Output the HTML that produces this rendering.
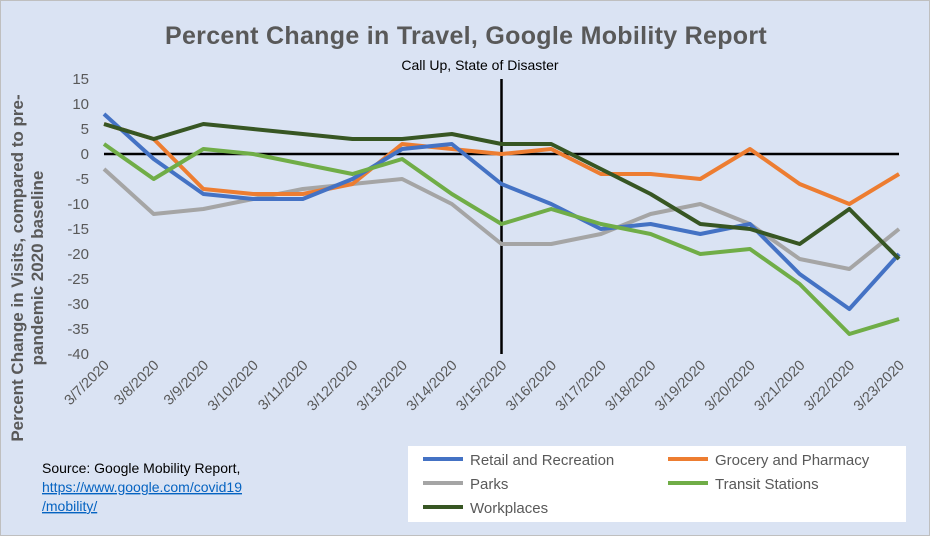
<!DOCTYPE html>
<html><head><meta charset="utf-8"><style>
body{margin:0;background:#fff}
svg{display:block;font-family:"Liberation Sans",sans-serif}
</style></head><body>
<svg width="930" height="536" viewBox="0 0 930 536">
<rect x="0.5" y="0.5" width="929" height="535" fill="#dae3f3" stroke="#bfbfbf"/>
<text x="466" y="44" text-anchor="middle" font-size="25" font-weight="bold" fill="#595959" letter-spacing="0.3">Percent Change in Travel, Google Mobility Report</text>
<text x="480" y="70" text-anchor="middle" font-size="14" fill="#000">Call Up, State of Disaster</text>
<g font-size="15" fill="#595959" text-anchor="end">
<text x="89" y="84">15</text><text x="89" y="109">10</text><text x="89" y="134">5</text><text x="89" y="159">0</text>
<text x="89" y="184">-5</text><text x="89" y="209">-10</text><text x="89" y="234">-15</text><text x="89" y="259">-20</text>
<text x="89" y="284">-25</text><text x="89" y="309">-30</text><text x="89" y="334">-35</text><text x="89" y="359">-40</text>
</g>
<g font-size="17" font-weight="bold" fill="#595959" text-anchor="middle">
<text transform="translate(23,268) rotate(-90)">Percent Change in Visits, compared to pre-</text>
<text transform="translate(43,268) rotate(-90)">pandemic 2020 baseline</text>
</g>
<line x1="104" y1="154" x2="899" y2="154" stroke="#000" stroke-width="2.5"/>
<line x1="501.5" y1="79" x2="501.5" y2="354" stroke="#000" stroke-width="2.5"/>
<g font-size="14.5" fill="#595959" text-anchor="end" id="xl"></g>
<g fill="none" stroke-width="4" stroke-linejoin="round" id="ln"></g>
<rect x="408" y="446" width="498" height="76" fill="#fff"/>
<g font-size="15" fill="#595959">
<line x1="423" y1="459" x2="463" y2="459" stroke="#4472c4" stroke-width="4"/><text x="470" y="465">Retail and Recreation</text>
<line x1="668" y1="459" x2="708" y2="459" stroke="#ed7d31" stroke-width="4"/><text x="715" y="465">Grocery and Pharmacy</text>
<line x1="423" y1="483" x2="463" y2="483" stroke="#a5a5a5" stroke-width="4"/><text x="470" y="489">Parks</text>
<line x1="668" y1="483" x2="708" y2="483" stroke="#70ad47" stroke-width="4"/><text x="715" y="489">Transit Stations</text>
<line x1="423" y1="507" x2="463" y2="507" stroke="#375623" stroke-width="4"/><text x="470" y="513">Workplaces</text>
</g>
<g font-size="14">
<text x="42" y="473" fill="#000">Source: Google Mobility Report,</text>
<text x="42" y="492" fill="#0563c1" text-decoration="underline">https://www.google.com/covid19</text>
<text x="42" y="511" fill="#0563c1" text-decoration="underline">/mobility/</text>
</g>
<script>
var ns="http://www.w3.org/2000/svg";
function X(i){return 104+i*49.69}
function Y(v){return 154-5*v}
var xl=document.getElementById('xl');
for(var i=0;i<17;i++){var t=document.createElementNS(ns,'text');var x=X(i)+6,y=366;
t.setAttribute('transform','translate('+x+','+y+') rotate(-45)');t.textContent='3/'+(7+i)+'/2020';xl.appendChild(t);}
var S=[
['#a5a5a5',[-3,-12,-11,-9,-7,-6,-5,-10,-18,-18,-16,-12,-10,-14,-21,-23,-15]],
['#ed7d31',[6,3,-7,-8,-8,-6,2,1,0,1,-4,-4,-5,1,-6,-10,-4]],
['#4472c4',[8,-1,-8,-9,-9,-5,1,2,-6,-10,-15,-14,-16,-14,-24,-31,-20]],
['#70ad47',[2,-5,1,0,-2,-4,-1,-8,-14,-11,-14,-16,-20,-19,-26,-36,-33]],
['#375623',[6,3,6,5,4,3,3,4,2,2,-3,-8,-14,-15,-18,-11,-21]]];
var ln=document.getElementById('ln');
S.forEach(function(s){var p=document.createElementNS(ns,'polyline');
p.setAttribute('points',s[1].map(function(v,i){return X(i)+','+Y(v)}).join(' '));
p.setAttribute('stroke',s[0]);ln.appendChild(p);});
</script>
</svg>
</body></html>
